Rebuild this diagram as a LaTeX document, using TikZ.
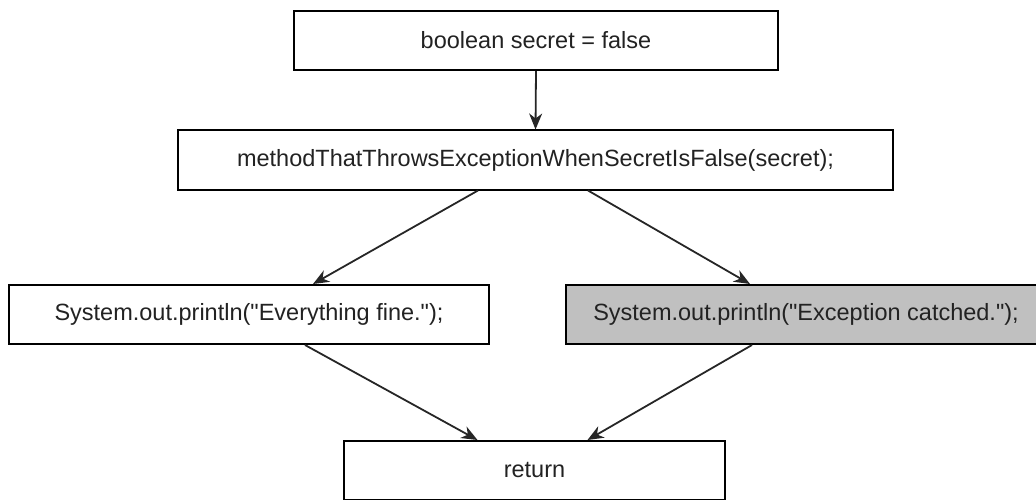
\documentclass[tikz,border=0pt]{standalone}
\usepackage{fontspec}
\setmainfont{Liberation Sans}[Ligatures=TeXOff]
\usetikzlibrary{arrows.meta,calc}
\definecolor{txt}{HTML}{222222}
\definecolor{catchfill}{HTML}{C0C0C0}
\tikzset{
  stmt/.style={draw=black, line width=2pt, fill=white, inner sep=0pt,
    minimum height=59pt, text=txt,
    font=\fontsize{23.5}{28}\selectfont},
  flow/.style={line width=1.8pt, draw=black!85,
    -{Stealth[length=16pt,width=13pt,inset=5pt]}},
}
\begin{document}
\begin{tikzpicture}[x=1pt,y=-1pt]
  \useasboundingbox (0,0) rectangle (1036,500);

  \node[stmt, minimum width=484pt] (init) at (536,40.5) {boolean secret = false};
  \node[stmt, minimum width=715pt] (call) at (535.5,160) {methodThatThrowsExceptionWhenSecretIsFalse(secret);};
  \node[stmt, minimum width=480pt] (fine) at (249,314.5) {System.out.println("Everything fine.");};
  \node[stmt, minimum width=480pt, fill=catchfill] (caught) at (806,314.5) {System.out.println("Exception catched.");};
  \node[stmt, minimum width=381pt] (ret) at (534.5,470.5) {return};

  \draw[flow] (init.south) -- (call.north);
  \draw[flow] ($(call.south)+(-57.5,0)$) -- ($(fine.north)+(64,0)$);
  \draw[flow] ($(call.south)+(52.5,0)$) -- ($(caught.north)+(-56,0)$);
  \draw[flow] ($(fine.south)+(56,0)$) -- ($(ret.north)+(-57,0)$);
  \draw[flow] ($(caught.south)+(-54,0)$) -- ($(ret.north)+(53,0)$);
\end{tikzpicture}
\end{document}
